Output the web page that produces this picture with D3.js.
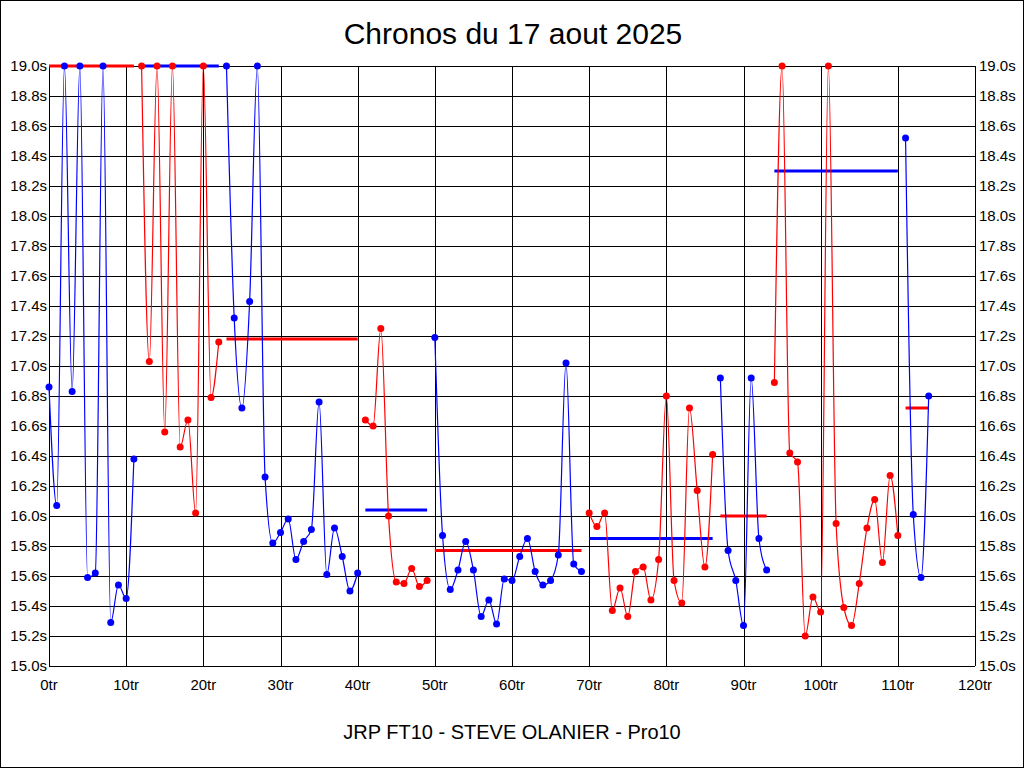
<!DOCTYPE html>
<html><head><meta charset="utf-8">
<script src="https://cdn.jsdelivr.net/npm/d3@7"></script>
<style>body{margin:0;background:#fff}svg{display:block}text{font-family:"Liberation Sans",Arial,sans-serif}</style>
</head><body><svg id="c" width="1024" height="768"></svg>
<script>
// Lap times (s) per stint; values >= 19.0 are clipped at the top of the chart
const stintStarts = [0, 12, 23, 41, 50, 70, 87, 94, 111];
const stintColors = ["blue", "red", "blue", "red", "blue", "red", "blue", "red", "blue"];
const stint1 = [16.86, 16.07, 19.0, 16.83, 19.0, 15.59, 15.62, 19.0, 15.29, 15.54, 15.45, 16.38];
const stint2 = [19.0, 17.03, 19.0, 16.56, 19.0, 16.46, 16.64, 16.02, 19.0, 16.79, 17.16];
const stint3 = [19.0, 17.32, 16.72, 17.43, 19.0, 16.26, 15.82, 15.89, 15.98, 15.71, 15.83, 15.91, 16.76, 15.61, 15.92, 15.73, 15.50, 15.62];
const stint4 = [16.64, 16.60, 17.25, 16.00, 15.56, 15.55, 15.65, 15.53, 15.57];
const stint5 = [17.19, 15.87, 15.51, 15.64, 15.83, 15.64, 15.33, 15.44, 15.28, 15.58, 15.57, 15.73, 15.85, 15.63, 15.54, 15.57, 15.74, 17.02, 15.68, 15.63];
const stint6 = [16.02, 15.93, 16.02, 15.37, 15.52, 15.33, 15.63, 15.66, 15.44, 15.71, 16.80, 15.57, 15.42, 16.72, 16.17, 15.66, 16.41];
const stint7 = [16.92, 15.77, 15.57, 15.27, 16.92, 15.85, 15.64];
const stint8 = [16.89, 19.0, 16.42, 16.36, 15.20, 15.46, 15.36, 19.0, 15.95, 15.39, 15.27, 15.55, 15.92, 16.11, 15.69, 16.27, 15.87];
const stint9 = [18.52, 16.01, 15.59, 16.80];
const stintMeans = [19.0, 19.0, 17.18, 16.04, 15.77, 15.85, 16.00, 18.30, 16.72];
const yTicks = [15.0, 15.2, 15.4, 15.6, 15.8, 16.0, 16.2, 16.4, 16.6, 16.8, 17.0, 17.2, 17.4, 17.6, 17.8, 18.0, 18.2, 18.4, 18.6, 18.8, 19.0];
const xTicks = [0, 10, 20, 30, 40, 50, 60, 70, 80, 90, 100, 110, 120];
const title = "Chronos du 17 aout 2025";
const footer = "JRP FT10 - STEVE OLANIER - Pro10";

const stints = [stint1, stint2, stint3, stint4, stint5, stint6, stint7, stint8, stint9];
const svg = d3.select("#c");
const L = 49, R = 975, T = 66, B = 666;
const x = d3.scaleLinear().domain([0, 120]).range([L, R]);
const y = d3.scaleLinear().domain([15, 19]).range([B, T]);

svg.append("rect").attr("x", 0.5).attr("y", 0.5).attr("width", 1023).attr("height", 767)
  .attr("fill", "#fff").attr("stroke", "#000");

// grid
const g = svg.append("g").attr("shape-rendering", "crispEdges");
g.selectAll(".hy").data(yTicks).join("line")
  .attr("x1", L).attr("x2", R).attr("y1", d => Math.round(y(d)) + 0.5).attr("y2", d => Math.round(y(d)) + 0.5)
  .attr("stroke", "#000");
g.selectAll(".vx").data(xTicks).join("line")
  .attr("y1", T).attr("y2", B).attr("x1", d => Math.round(x(d)) + 0.5).attr("x2", d => Math.round(x(d)) + 0.5)
  .attr("stroke", "#000");

// axes labels
const fmtY = d => d.toFixed(1) + "s";
svg.append("g").selectAll("text").data(yTicks).join("text")
  .attr("x", L - 2).attr("y", d => y(d)).attr("dy", "0.36em").attr("text-anchor", "end")
  .attr("font-size", 15).text(fmtY);
svg.append("g").selectAll("text").data(yTicks).join("text")
  .attr("x", R + 4).attr("y", d => y(d)).attr("dy", "0.36em").attr("text-anchor", "start")
  .attr("font-size", 15).text(fmtY);
svg.append("g").selectAll("text").data(xTicks).join("text")
  .attr("x", d => x(d)).attr("y", B + 24).attr("text-anchor", "middle")
  .attr("font-size", 15).text(d => d + "tr");

// series
const line = d3.line().x(d => x(d.t)).y(d => y(d.v)).curve(d3.curveMonotoneX);
const other = c => c === "blue" ? "red" : "blue";
stints.forEach((vals, i) => {
  const data = vals.map((v, j) => ({t: stintStarts[i] + j, v}));
  const col = stintColors[i] === "blue" ? "#0000ff" : "#ff0000";
  const mcol = other(stintColors[i]) === "blue" ? "#0000ff" : "#ff0000";
  const t0 = data[0].t, t1 = data[data.length - 1].t;
  svg.append("line").attr("x1", x(t0)).attr("x2", x(t1))
    .attr("y1", y(stintMeans[i])).attr("y2", y(stintMeans[i]))
    .attr("stroke", mcol).attr("stroke-width", 3);
  svg.append("path").datum(data).attr("d", line).attr("fill", "none")
    .attr("stroke", col).attr("stroke-width", 1.2);
  svg.append("g").selectAll("circle").data(data).join("circle")
    .attr("cx", d => x(d.t)).attr("cy", d => y(d.v)).attr("r", 3.5).attr("fill", col);
});

svg.append("text").attr("x", 513).attr("y", 44).attr("text-anchor", "middle")
  .attr("font-size", 30).text(title);
svg.append("text").attr("x", 512).attr("y", 739).attr("text-anchor", "middle")
  .attr("font-size", 20).text(footer);
</script></body></html>
